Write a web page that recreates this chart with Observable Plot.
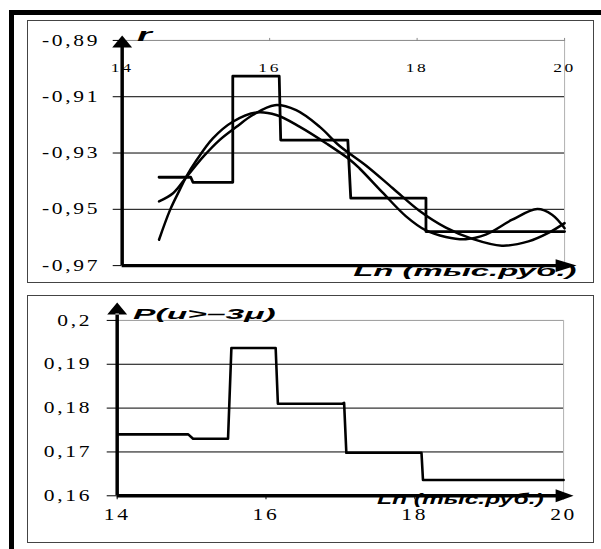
<!DOCTYPE html>
<html><head><meta charset="utf-8">
<script src="https://cdn.jsdelivr.net/npm/d3@7"></script>
<script src="https://cdn.jsdelivr.net/npm/@observablehq/plot@0.6"></script>
<style>
html,body{margin:0;padding:0;background:#fff;}
#page{position:relative;width:601px;height:549px;overflow:hidden;background:#fff;}
.bar{position:absolute;background:#000;}
.panel{position:absolute;box-sizing:border-box;border:1px solid #444;}
.panel svg{position:absolute;left:-1px;top:-1px;}
</style></head><body>
<div id="page">
 <div class="bar" style="left:9px;top:10px;width:592px;height:5px"></div>
 <div class="bar" style="left:9px;top:10px;width:5px;height:539px"></div>
 <div class="panel" id="panelTop" style="left:27px;top:20px;width:567px;height:263px"></div>
 <div class="panel" id="panelBottom" style="left:27px;top:295px;width:567px;height:248px"></div>
</div>
<script>
// ---- data ----
const xTicks = [14, 16, 18, 20];
const yTicksTop = [-0.89, -0.91, -0.93, -0.95, -0.97];
const yGridTop = [-0.91, -0.93, -0.95];
const yTicksBottom = [0.2, 0.19, 0.18, 0.17, 0.16];
const yGridBottom = [0.19, 0.18, 0.17];

const stepTopX = [14.5, 14.93, 14.96, 15.5, 15.5, 16.13, 16.15, 17.06, 17.1, 18.12, 18.12, 20.0];
const stepTopY = [-0.9386, -0.9386, -0.9404, -0.9404, -0.9027, -0.9027, -0.9254, -0.9254, -0.946, -0.946, -0.9579, -0.9579];

const curveAX = [14.5, 14.69, 14.87, 15.10, 15.32, 15.55, 15.77, 16.07, 16.36, 16.68, 16.95, 17.31, 17.67, 18.03, 18.39, 18.75, 19.15, 19.51, 19.78, 20.0];
const curveAY = [-0.9472, -0.9443, -0.9386, -0.9313, -0.9254, -0.9207, -0.9165, -0.9130, -0.9148, -0.9207, -0.9275, -0.9345, -0.9425, -0.9505, -0.9565, -0.9605, -0.9629, -0.9614, -0.9584, -0.9549];

const curveBX = [14.5, 14.65, 14.78, 14.87, 15.01, 15.23, 15.50, 15.82, 16.09, 16.41, 16.77, 17.08, 17.22, 17.53, 17.85, 18.12, 18.39, 18.66, 18.93, 19.29, 19.63, 19.83, 20.0];
const curveBY = [-0.9608, -0.9502, -0.9431, -0.9384, -0.9325, -0.9248, -0.9189, -0.9156, -0.9165, -0.9207, -0.9266, -0.9322, -0.9355, -0.9440, -0.9525, -0.9575, -0.9598, -0.9606, -0.9590, -0.9537, -0.9499, -0.9519, -0.9567];

const stepBotX = [14.0, 14.955, 15.02, 15.49, 15.535, 16.13, 16.16, 17.03, 17.05, 17.08, 18.09, 18.11, 20.0];
const stepBotY = [0.174, 0.174, 0.173, 0.173, 0.1937, 0.1937, 0.181, 0.181, 0.1812, 0.1698, 0.1698, 0.1636, 0.1636];

const labelTopY = "r";
const labelBotY = "P(u>–3μ)";
const labelX = "Ln (тыс.руб.)";

// ---- helpers ----
const zip = (xs, ys) => xs.map((x, i) => ({x, y: ys[i]}));
const fmt = d => String(d).replace(".", ",");
function stretch(sx, ls) {
  return function(index, scales, values, dims, context, next) {
    const g = next(index, scales, values, dims, context);
    if (g) {
      if (ls) g.setAttribute("letter-spacing", ls);
      for (const t of g.querySelectorAll("text")) {
        t.setAttribute("transform", (t.getAttribute("transform") || "") + ` scale(${sx},1)`);
      }
    }
    return g;
  };
}
const headUp = {draw(c) { c.moveTo(0, -5); c.lineTo(10, 7); c.lineTo(-10, 7); c.closePath(); }};
const headUpStem = {draw(c) {
  c.moveTo(-1.75, 0); c.lineTo(1.75, 0); c.lineTo(1.75, -7); c.lineTo(-1.75, -7); c.closePath();
  c.moveTo(0, -18); c.lineTo(10, -6); c.lineTo(-10, -6); c.closePath();
}};
const headRight = {draw(c) { c.moveTo(12, 0); c.lineTo(-9, -6.5); c.lineTo(-9, 6.5); c.closePath(); }};
const headRightB = {draw(c) { c.moveTo(10, 0); c.lineTo(-8, -6.5); c.lineTo(-8, 6.5); c.closePath(); }};

const serif = "Liberation Serif";
const sans = "Liberation Sans";

// ---- top chart ----
const chartTop = Plot.plot({
  width: 567, height: 263,
  marginLeft: 95, marginRight: 28, marginTop: 20, marginBottom: 17,
  x: {domain: [14, 20], axis: null},
  y: {domain: [-0.97, -0.89], axis: null},
  marks: [
    Plot.ruleY(yGridTop, {stroke: "#000", strokeWidth: 1}),
    Plot.ruleY([-0.89], {stroke: "#888", strokeWidth: 1}),
    Plot.ruleX([20], {stroke: "#b0b0b0", strokeWidth: 1}),
    Plot.axisY({ticks: yTicksTop, tickSize: 9, tickFormat: () => "", label: null, stroke: "#000"}),
    Plot.axisX({anchor: "top", ticks: xTicks, tickSize: 3, tickFormat: () => "", label: null, stroke: "#888"}),
    Plot.line(zip(curveAX, curveAY), {x: "x", y: "y", curve: "catmull-rom", stroke: "#000", strokeWidth: 2.5}),
    Plot.line(zip(curveBX, curveBY), {x: "x", y: "y", curve: "catmull-rom", stroke: "#000", strokeWidth: 2.5}),
    Plot.line(zip(stepTopX, stepTopY), {x: "x", y: "y", stroke: "#000", strokeWidth: 2.8}),
    Plot.ruleX([14], {y1: -0.97, y2: -0.89, stroke: "#000", strokeWidth: 3.5}),
    Plot.ruleY([-0.97], {x1: 14, x2: 20, stroke: "#000", strokeWidth: 3.5}),
    Plot.dot([{x: 14, y: -0.89}], {x: "x", y: "y", symbol: headUp, fill: "#000", stroke: "none"}),
    Plot.dot([{x: 20, y: -0.97}], {x: "x", y: "y", symbol: headRight, fill: "#000", stroke: "none"}),
    Plot.text(yTicksTop, {y: d => d, text: fmt, frameAnchor: "left", textAnchor: "end", dx: -22,
      fontFamily: serif, fontSize: 16, fill: "#000", render: stretch(1.35, 2)}),
    Plot.text(xTicks, {x: d => d, text: d => String(d), frameAnchor: "top", dy: 22,
      fontFamily: serif, fontSize: 13, fill: "#000", render: stretch(1.35, 2)}),
    Plot.text([labelTopY], {text: d => d, frameAnchor: "top-left", textAnchor: "start", dx: 15, dy: -13,
      fontFamily: sans, fontWeight: "bold", fontStyle: "italic", fontSize: 19, fill: "#000", render: stretch(2, 0)}),
    Plot.text([labelX], {text: d => d, frameAnchor: "bottom-right", textAnchor: "end", dx: 12, dy: 10,
      fontFamily: sans, fontWeight: "bold", fontStyle: "italic", fontSize: 15, fill: "#000", render: stretch(2.2, 0)})
  ]
});
document.getElementById("panelTop").appendChild(chartTop);

// ---- bottom chart ----
const chartBot = Plot.plot({
  width: 567, height: 248,
  marginLeft: 90, marginRight: 29, marginTop: 25, marginBottom: 47,
  x: {domain: [14, 20], axis: null},
  y: {domain: [0.16, 0.2], axis: null},
  marks: [
    Plot.ruleY(yGridBottom, {stroke: "#000", strokeWidth: 1}),
    Plot.ruleY([0.2], {stroke: "#999", strokeWidth: 1}),
    Plot.ruleX([20], {stroke: "#b0b0b0", strokeWidth: 1}),
    Plot.axisY({ticks: yTicksBottom, tickSize: 10, tickFormat: () => "", label: null, stroke: "#000"}),
    Plot.axisX({anchor: "bottom", ticks: xTicks, tickSize: 4, tickFormat: () => "", label: null, stroke: "#000"}),
    Plot.line(zip(stepBotX, stepBotY), {x: "x", y: "y", stroke: "#000", strokeWidth: 2.6}),
    Plot.ruleX([14], {y1: 0.16, y2: 0.2, stroke: "#000", strokeWidth: 3.5}),
    Plot.ruleY([0.16], {x1: 14, x2: 20, stroke: "#000", strokeWidth: 3.5}),
    Plot.dot([{x: 14, y: 0.2}], {x: "x", y: "y", symbol: headUpStem, fill: "#000", stroke: "none"}),
    Plot.dot([{x: 20, y: 0.16}], {x: "x", y: "y", symbol: headRightB, fill: "#000", stroke: "none"}),
    Plot.text(yTicksBottom, {y: d => d, text: fmt, frameAnchor: "left", textAnchor: "end", dx: -25,
      fontFamily: serif, fontSize: 16, fill: "#000", render: stretch(1.35, 2)}),
    Plot.text(xTicks, {x: d => d, text: d => String(d), frameAnchor: "bottom", dy: 24,
      fontFamily: serif, fontSize: 16, fill: "#000", render: stretch(1.35, 2)}),
    Plot.text([labelBotY], {text: d => d, frameAnchor: "top-left", textAnchor: "start", dx: 16, dy: -12,
      fontFamily: sans, fontWeight: "bold", fontStyle: "italic", fontSize: 15, fill: "#000", render: stretch(2.25, 0)}),
    Plot.text([labelX], {text: d => d, frameAnchor: "bottom-right", textAnchor: "end", dx: -20, dy: 8,
      fontFamily: sans, fontWeight: "bold", fontStyle: "italic", fontSize: 14, fill: "#000", render: stretch(1.76, 0)})
  ]
});
document.getElementById("panelBottom").appendChild(chartBot);
</script>
</body></html>
